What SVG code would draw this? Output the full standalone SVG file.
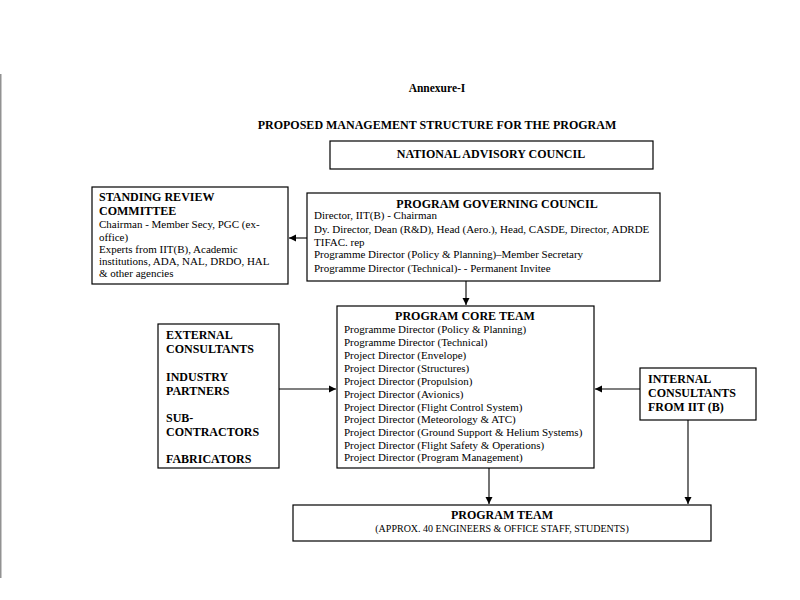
<svg xmlns="http://www.w3.org/2000/svg" width="800" height="600" viewBox="0 0 800 600">
<defs>
<marker id="ah" markerWidth="8" markerHeight="8" refX="7" refY="4" orient="auto" markerUnits="userSpaceOnUse">
<path d="M0,0.5 L7,4 L0,7.5 Z" fill="#000"/>
</marker>
<style>
.box{fill:#fff;stroke:#000;stroke-width:1.2}
.t{font-family:"Liberation Serif","Times New Roman",serif;fill:#000}
.b{font-weight:bold}
.h{font-size:12px;font-weight:bold}
.s{font-size:11px}
.c{stroke:#000;stroke-width:1.1;fill:none;marker-end:url(#ah)}
</style>
</defs>
<rect width="800" height="600" fill="#fff"/>
<line x1="0.8" y1="74" x2="0.8" y2="578" stroke="#777" stroke-width="1.2"/>
<text class="t b" x="437" y="92" font-size="11.5" text-anchor="middle">Annexure-I</text>
<text class="t b" x="437" y="129" font-size="12" text-anchor="middle">PROPOSED MANAGEMENT STRUCTURE FOR THE PROGRAM</text>

<g id="connectors">
<line class="c" x1="307" y1="238" x2="289" y2="238"/>
<line class="c" x1="466" y1="281" x2="466" y2="305"/>
<line class="c" x1="279" y1="389" x2="336" y2="389"/>
<line class="c" x1="640" y1="389" x2="595" y2="389"/>
<line class="c" x1="489" y1="468" x2="489" y2="504"/>
<line class="c" x1="688" y1="420" x2="688" y2="504"/>
</g>

<g id="nac">
<rect class="box" x="330" y="141" width="323" height="28"/>
<text class="t h" x="491" y="158" text-anchor="middle">NATIONAL ADVISORY COUNCIL</text>
</g>

<g id="src">
<rect class="box" x="92" y="187" width="196" height="97"/>
<text class="t h" x="99" y="201">STANDING REVIEW</text>
<text class="t h" x="99" y="215">COMMITTEE</text>
<text class="t s" x="99" y="228">Chairman - Member Secy, PGC (ex-</text>
<text class="t s" x="99" y="241">office)</text>
<text class="t s" x="99" y="253">Experts from IIT(B), Academic</text>
<text class="t s" x="99" y="265">institutions, ADA, NAL, DRDO, HAL</text>
<text class="t s" x="99" y="277">&amp; other agencies</text>
</g>

<g id="pgc">
<rect class="box" x="307" y="193" width="353" height="88"/>
<text class="t h" x="497" y="208" text-anchor="middle">PROGRAM GOVERNING COUNCIL</text>
<text class="t s" x="314" y="219">Director, IIT(B) - Chairman</text>
<text class="t s" x="314" y="233">Dy. Director, Dean (R&amp;D), Head (Aero.), Head, CASDE, Director, ADRDE</text>
<text class="t s" x="314" y="246">TIFAC. rep</text>
<text class="t s" x="314" y="258">Programme Director (Policy &amp; Planning)–Member Secretary</text>
<text class="t s" x="314" y="272">Programme Director (Technical)- -  Permanent Invitee</text>
</g>

<g id="core">
<rect class="box" x="337" y="306" width="257" height="162"/>
<text class="t h" x="465" y="320" text-anchor="middle">PROGRAM CORE TEAM</text>
<text class="t s" x="344" y="333">Programme Director (Policy &amp; Planning)</text>
<text class="t s" x="344" y="346">Programme Director (Technical)</text>
<text class="t s" x="344" y="359">Project Director (Envelope)</text>
<text class="t s" x="344" y="372">Project Director (Structures)</text>
<text class="t s" x="344" y="385">Project Director (Propulsion)</text>
<text class="t s" x="344" y="398">Project Director (Avionics)</text>
<text class="t s" x="344" y="411">Project Director (Flight Control System)</text>
<text class="t s" x="344" y="423">Project Director (Meteorology &amp; ATC)</text>
<text class="t s" x="344" y="436">Project Director (Ground Support &amp; Helium Systems)</text>
<text class="t s" x="344" y="449">Project Director (Flight Safety &amp; Operations)</text>
<text class="t s" x="344" y="461">Project Director (Program Management)</text>
</g>

<g id="external">
<rect class="box" x="158" y="324" width="121" height="144"/>
<text class="t h" x="166" y="339">EXTERNAL</text>
<text class="t h" x="166" y="353">CONSULTANTS</text>
<text class="t h" x="166" y="381">INDUSTRY</text>
<text class="t h" x="166" y="395">PARTNERS</text>
<text class="t h" x="166" y="422">SUB-</text>
<text class="t h" x="166" y="436">CONTRACTORS</text>
<text class="t h" x="166" y="463">FABRICATORS</text>
</g>

<g id="internal">
<rect class="box" x="640" y="368" width="116" height="52"/>
<text class="t h" x="648" y="383">INTERNAL</text>
<text class="t h" x="648" y="397">CONSULTANTS</text>
<text class="t h" x="648" y="411">FROM IIT (B)</text>
</g>

<g id="team">
<rect class="box" x="293" y="505" width="418" height="36"/>
<text class="t h" x="502" y="519" text-anchor="middle">PROGRAM TEAM</text>
<text class="t" x="502" y="532" font-size="10" text-anchor="middle">(APPROX. 40 ENGINEERS &amp; OFFICE STAFF, STUDENTS)</text>
</g>
</svg>
